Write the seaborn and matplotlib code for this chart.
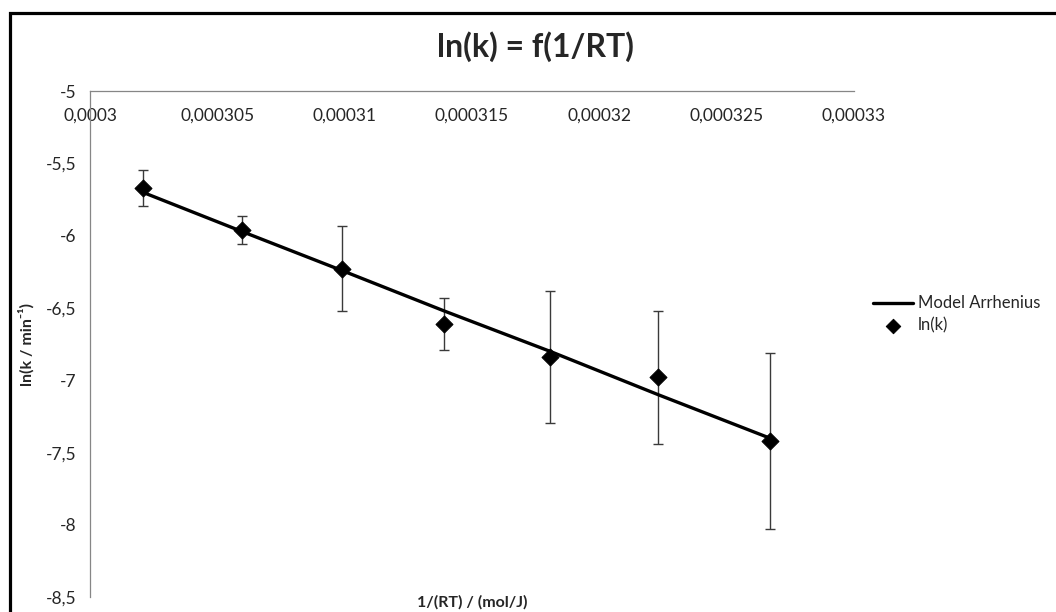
import pandas as pd
import seaborn as sns
import matplotlib.pyplot as plt
from matplotlib.ticker import MultipleLocator, FuncFormatter
from matplotlib.patches import Rectangle

# ---- data ----
inv_rt = [0.00030207, 0.00030595, 0.00030988, 0.0003139, 0.00031807, 0.00032232, 0.0003267]
ln_k = [-5.67, -5.96, -6.23, -6.61, -6.84, -6.98, -7.42]
ln_k_err = [0.127, 0.097, 0.294, 0.177, 0.454, 0.458, 0.606]
model_ln_k = [-5.70, -5.97, -6.24, -6.52, -6.80, -7.10, -7.40]

df = pd.DataFrame({"inv_rt": inv_rt, "ln_k": ln_k, "err": ln_k_err, "model": model_ln_k})

sns.set_style("white")
plt.rcParams["font.family"] = ["Lato", "DejaVu Sans"]

W, H = 1056, 612
fig = plt.figure(figsize=(W / 100, H / 100), dpi=100)
ax = fig.add_axes([90 / W, (H - 597.3) / H, (854 - 90) / W, (597.3 - 91) / H])

# error bars, model line, points
ax.errorbar(df["inv_rt"], df["ln_k"], yerr=df["err"], fmt="none",
            ecolor="#3a3a3a", elinewidth=1, capsize=3.5, capthick=1, zorder=2)
sns.lineplot(data=df, x="inv_rt", y="model", color="black", lw=2.4,
             label="Model Arrhenius", ax=ax, zorder=3)
sns.scatterplot(data=df, x="inv_rt", y="ln_k", marker="D", s=75, color="black",
                edgecolor="black", label="ln(k)", ax=ax, zorder=4)

ax.set_xlim(0.0003, 0.00033)
ax.set_ylim(-8.5, -5)
ax.xaxis.set_major_locator(MultipleLocator(0.000005))
ax.yaxis.set_major_locator(MultipleLocator(0.5))
fmt = FuncFormatter(lambda v, p: f"{round(v, 8):g}".replace(".", ","))
ax.xaxis.set_major_formatter(fmt)
ax.yaxis.set_major_formatter(fmt)

# Excel-like axes: horizontal axis crosses at y = -5 (top)
ax.spines["bottom"].set_position(("data", -5))
ax.spines["top"].set_visible(False)
ax.spines["right"].set_visible(False)
for s in ("bottom", "left"):
    ax.spines[s].set_color("#868686")
    ax.spines[s].set_linewidth(0.9)
ax.tick_params(axis="both", direction="out", length=5, width=0.9, color="#868686",
               labelsize=12.5, labelcolor="#262626")
ax.tick_params(axis="x", pad=7)
ax.tick_params(axis="y", pad=5)

ax.set_xlabel("1/(RT) / (mol/J)", fontsize=11.5, fontweight="bold")
ax.xaxis.set_label_coords(0.5, 0.004)
ax.xaxis.label.set_va("top")
ax.set_ylabel("ln(k / min⁻¹)", fontsize=11.5, fontweight="bold")
ax.yaxis.set_label_coords(-0.072, 0.5)

fig.text(535 / W, 1 - 47 / H, "ln(k) = f(1/RT)", ha="center", va="center",
         fontsize=23, fontweight="bold")

handles, labels = ax.get_legend_handles_labels()
ax.legend(handles, labels, loc="upper left", bbox_to_anchor=(865 / W, 1 - 287 / H),
          bbox_transform=fig.transFigure, frameon=False, fontsize=12,
          handlelength=2.4, handletextpad=0.25, labelspacing=0.35, borderpad=0,
          markerscale=0.85)

# chart border (cropped on right and bottom)
fig.patches.append(Rectangle((9.5 / W, -0.05), 1.1, 1 - 12.5 / H + 0.05,
                             transform=fig.transFigure, fill=False,
                             lw=2.3, edgecolor="black"))

fig.savefig("out.png", dpi=100)
